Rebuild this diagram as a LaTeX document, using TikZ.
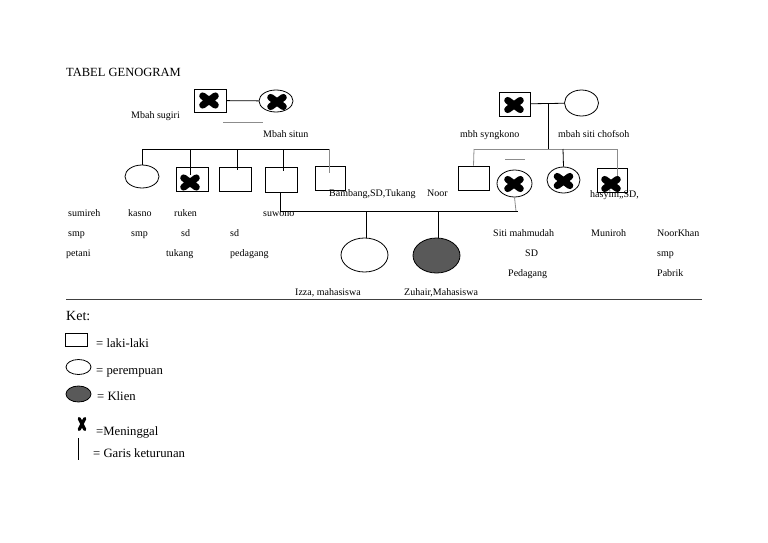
\documentclass[tikz,border=0pt]{standalone}
\usepackage{fontspec}
\setmainfont{Liberation Serif}
\usetikzlibrary{shapes.geometric}
\tikzset{
  shp/.style={draw=black, line width=0.8pt, inner sep=0pt},
  malebox/.style={shp, rectangle, minimum width=#1},
  femell/.style={shp, ellipse, minimum width=#1},
  link/.style={draw=black, line width=0.8pt},
  glink/.style={draw=black!45, line width=0.8pt},
  lbl/.style={font=\fontsize{10}{12}\selectfont, inner sep=0pt, anchor=base west},
  leg/.style={font=\fontsize{12.7}{14}\selectfont, inner sep=0pt, anchor=base west},
  pics/deadx/.style={code={
    \draw[line width=7pt, line cap=round] (-6.3,-4.6) -- (6.3,4.6) (-6.3,4.6) -- (6.3,-4.6);}},
  pics/smallx/.style={code={
    \draw[line width=3.2pt, line cap=round] (-2.8,-5.5) -- (2.8,5.5) (-2.8,5.5) -- (2.8,-5.5);}}
}
\begin{document}
\begin{tikzpicture}[x=1pt,y=-1pt]
\useasboundingbox (0,0) rectangle (768,543);

\node[leg, font=\fontsize{12.5}{14}\selectfont] (title) at (66,76.5) {TABEL GENOGRAM};

% ---- left grandparents
\node[malebox=32pt, minimum height=23pt] (sugiri) at (210,100.5) {};
\node[femell=34pt, minimum height=22pt] (situn) at (276,101) {};
\draw[link] (sugiri) -- (situn);
\pic at (209,100.5) {deadx};
\pic at (277,102) {deadx};
\coordinate (ga) at (223,122);
\coordinate (gb) at (263,122);
\draw[glink] (ga) -- (gb);
\node[lbl] (tsugiri) at (131,118) {Mbah sugiri};
\node[lbl] (tsitun) at (263,137) {Mbah situn};

% ---- left children
\coordinate (sl) at (142,149);
\coordinate (sr) at (329,149);
\draw[link] (sl) -- (sr);
\node[femell=34pt, minimum height=23pt] (c1) at (142,176.5) {};
\node[malebox=32pt, minimum height=24pt] (c2) at (192,179) {};
\node[malebox=32pt, minimum height=24pt] (c3) at (235,179) {};
\node[malebox=32pt, minimum height=25pt] (c4) at (281,179.5) {};
\node[malebox=30pt, minimum height=24pt] (c5) at (330,178) {};
\pic at (190,182.5) {deadx};
\draw[link] (sl) -- (c1.north);
\draw[link] (190,149) -- (190,175);
\draw[link] (237,149) -- (237,170);
\draw[link] (283,149) -- (283,171);
\draw[glink] (329,149) -- (329,173);

% ---- right grandparents
\node[malebox=31pt, minimum height=24pt] (sygk) at (514.5,104) {};
\node[femell=34pt, minimum height=26pt] (chof) at (581.5,103) {};
\draw[link] (sygk) -- (chof);
\pic at (514,105) {deadx};
\coordinate (rm) at (548,104);
\coordinate (rj) at (548,149);
\draw[link] (rm) -- (rj);
\node[lbl] (tsygk) at (460,137) {mbh syngkono};
\node[lbl] (tchof) at (558,137) {mbah siti chofsoh};

% ---- right children
\coordinate (rl) at (474,149);
\coordinate (rr) at (617,149);
\draw[glink] (rl) -- (rr);
\node[malebox=31pt, minimum height=24pt] (r1) at (473.5,178) {};
\node[femell=35pt, minimum height=27pt] (r2) at (514.5,183.5) {};
\node[femell=33pt, minimum height=26pt] (r3) at (563.5,180) {};
\node[malebox=30pt, minimum height=24pt] (r4) at (612,180.5) {};
\pic at (514,184) {deadx};
\pic at (563.5,181) {deadx};
\pic at (611,184) {deadx};
\draw[glink] (rl) -- (r1.north);
\draw[link] (563,149) -- (r3.north);
\draw[glink] (617,149) -- (617,176);
\coordinate (gc) at (505,159);
\coordinate (gd) at (525,159);
\draw[glink] (gc) -- (gd);

% ---- marriage suwono - siti mahmudah
\coordinate (m1) at (280,211);
\coordinate (m2) at (518,211);
\draw[link] (280,192) -- (m1) -- (m2);
\draw[glink] (r2.south) -- (516,211);
\node[femell=47pt, minimum height=34pt] (izza) at (364.5,255) {};
\node[femell=47pt, minimum height=35pt, fill=black!65] (zuhair) at (436.5,255.5) {};
\draw[link] (366,211) -- (366,238);
\draw[link] (438,211) -- (438,238);

% ---- labels
\node[lbl] (tbamb) at (329,196) {Bambang,SD,Tukang};
\node[lbl] (tnoor) at (427,196) {Noor};
\node[lbl] (thas) at (590,197) {hasyim,,SD,};

\node[lbl] (l1) at (68,216) {sumireh};
\node[lbl] (l2) at (68,236) {smp};
\node[lbl] (l3) at (66,256) {petani};
\node[lbl] (l4) at (128,216) {kasno};
\node[lbl] (l5) at (131,236) {smp};
\node[lbl] (l6) at (174,216) {ruken};
\node[lbl] (l7) at (181,236) {sd};
\node[lbl] (l8) at (166,256) {tukang};
\node[lbl] (l9) at (230,236) {sd};
\node[lbl] (l10) at (230,256) {pedagang};
\node[lbl] (l11) at (263,216) {suwono};

\node[lbl] (l12) at (493,236) {Siti mahmudah};
\node[lbl] (l13) at (525,256) {SD};
\node[lbl] (l14) at (508,276) {Pedagang};
\node[lbl] (l15) at (591,236) {Muniroh};
\node[lbl] (l16) at (657,236) {NoorKhan};
\node[lbl] (l17) at (657,256) {smp};
\node[lbl] (l18) at (657,276) {Pabrik};

\node[lbl] (l19) at (295,295) {Izza, mahasiswa};
\node[lbl] (l20) at (404,295) {Zuhair,Mahasiswa};

% ---- separator
\coordinate (s1) at (66,299);
\coordinate (s2) at (702,299);
\draw[draw=black!75, line width=1pt] (s1) -- (s2);

% ---- legend
\node[leg, font=\fontsize{14}{16}\selectfont] (ket) at (66,320) {Ket:};
\node[malebox=22pt, minimum height=13pt] (kbox) at (76.5,340) {};
\node[leg] (kt1) at (96,347) {= laki-laki};
\node[femell=25pt, minimum height=15pt] (kell) at (78.5,367) {};
\node[leg] (kt2) at (96,374) {= perempuan};
\node[femell=25pt, minimum height=16pt, fill=black!65] (kfill) at (78.5,394) {};
\node[leg] (kt3) at (97,400) {= Klien};
\pic at (82,424) {smallx};
\node[leg] (kt4) at (96,435) {=Meninggal};
\coordinate (v1) at (78,438);
\coordinate (v2) at (78,460);
\draw[link] (v1) -- (v2);
\node[leg] (kt5) at (93,457) {= Garis keturunan};
\end{tikzpicture}
\end{document}
